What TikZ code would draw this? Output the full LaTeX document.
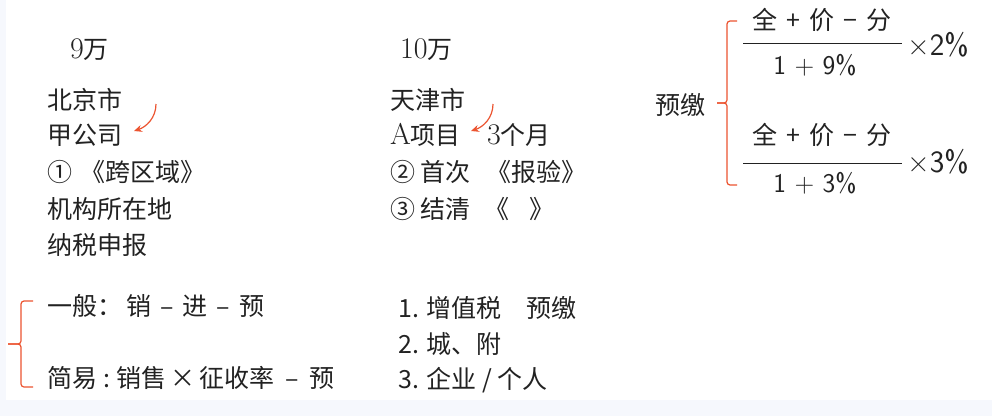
\documentclass[tikz,border=0pt]{standalone}
\usepackage{fontspec}
\newfontfamily\cjk{Noto Sans CJK SC}
\usetikzlibrary{arrows.meta}
\definecolor{ink}{RGB}{34,34,34}
\definecolor{mark}{RGB}{236,84,48}
\definecolor{frame}{RGB}{246,248,253}
\newcommand{\lmd}[1]{{\rmfamily\fontsize{30}{30}\selectfont #1}}
\newcommand{\lms}[1]{{\sffamily\fontsize{27}{30}\selectfont #1}}
\newcommand{\gap}{\hspace{9pt}}

\begin{document}
\begin{tikzpicture}[x=1pt, y=-1pt,
  txt/.style={anchor=west, inner sep=0pt, text=ink, font=\cjk\fontsize{25}{30}\selectfont},
  frac/.style={txt, anchor=center},
  redarrow/.style={draw=mark, line width=1.2pt, -{Stealth[length=8pt,width=7pt]}},
  brace/.style={draw=mark, line width=1.2pt, rounded corners=3pt},
  bar/.style={draw=ink, line width=1pt}]
% background
\fill[frame] (0,0) rectangle (992,416);
\fill[white] (6,0) rectangle (992,400);

% left column
\node[txt] (amt1) at (70,50) {\lmd{9}万};
\node[txt] (bj) at (47,100) {北京市};
\node[txt] (jia) at (47,135) {甲公司};
\node[txt] (kqy) at (47,172) {①\hspace{8pt}《跨区域》};
\node[txt] (jg) at (47,209) {机构所在地};
\node[txt] (ns) at (47,245) {纳税申报};
\coordinate (arr1s) at (156,104);
\coordinate (arr1e) at (134,131);
\draw[redarrow] (arr1s) .. controls (156,118) and (146,127) .. (arr1e);

% middle column
\node[txt] (amt2) at (400,50) {\lmd{10}万};
\node[txt] (tj) at (390,100) {天津市};
\node[txt] (xm) at (390,135) {\lmd{A}项目};
\node[txt] (mon) at (487,135) {\lmd{3}个月};
\node[txt] (bg) at (390,172) {② 首次\hspace{16pt}《报验》};
\node[txt] (jq) at (390,209) {③ 结清\hspace{14pt}《\hspace{20pt}》};
\coordinate (arr2s) at (493,104);
\coordinate (arr2e) at (471,131);
\draw[redarrow] (arr2s) .. controls (493,118) and (483,127) .. (arr2e);

% right: prepayment formulas
\node[txt] (yj) at (655,105) {预缴};
\draw[brace] (737,21) -- (727,21) -- (727,103) -- (717,103);
\draw[brace] (717,103) -- (727,103) -- (727,185) -- (737,185);
\node[frac] (num1) at (822,20) {全\gap{}+\gap{}价\gap{}−\gap{}分};
\coordinate (bar1w) at (743,43);
\coordinate (bar1e) at (902,43);
\draw[bar] (bar1w) -- (bar1e);
\node[frac] (den1) at (815,65) {\lms{1 + 9\%}};
\node[txt] (rate1) at (907,45) {{\sffamily\fontsize{31}{30}\selectfont ×2\%}};
\node[frac] (num2) at (822,135) {全\gap{}+\gap{}价\gap{}−\gap{}分};
\coordinate (bar2w) at (743,163);
\coordinate (bar2e) at (902,163);
\draw[bar] (bar2w) -- (bar2e);
\node[frac] (den2) at (815,183) {\lms{1 + 3\%}};
\node[txt] (rate2) at (907,162) {{\sffamily\fontsize{31}{30}\selectfont ×3\%}};

% bottom left
\draw[brace] (33,301) -- (21,301) -- (21,344) -- (8,344);
\draw[brace] (8,344) -- (21,344) -- (21,387) -- (33,387);
\node[txt] (gen) at (47,306) {一般：\hspace{4pt}销\gap{}–\gap{}进\gap{}–\gap{}预};
\node[txt] (simp) at (47,378) {简易\hspace{6pt}:\hspace{6pt}销售\hspace{4pt}×\hspace{4pt}征收率\hspace{11pt}–\hspace{11pt}预};

% bottom middle
\node[txt] (it1) at (398,308) {1. 增值税\quad 预缴};
\node[txt] (it2) at (398,344) {2. 城、附};
\node[txt] (it3) at (398,380) {3. 企业 / 个人};
\end{tikzpicture}
\end{document}
